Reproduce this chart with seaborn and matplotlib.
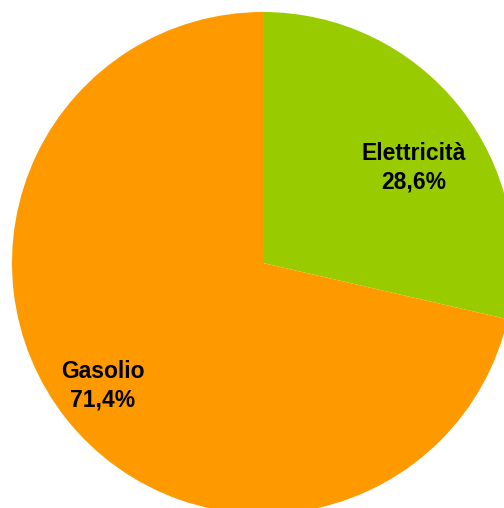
import matplotlib
matplotlib.use("Agg")
import matplotlib.pyplot as plt
import seaborn as sns
import numpy as np

sns.set_style("white")
plt.rcParams['font.family'] = ['Liberation Sans', 'DejaVu Sans']

categories = ["Elettricità", "Gasolio"]
values = [28.6, 71.4]
pct_labels = ["28,6%", "71,4%"]
colors = ["#99CC00", "#FF9900"]

fig = plt.figure(figsize=(5.04, 5.08), dpi=100)
ax = fig.add_axes([12 / 504, -6 / 508, 502 / 504, 502 / 508])

wedges, _ = ax.pie(values, colors=colors, startangle=90, counterclock=False,
                   radius=1.0, wedgeprops=dict(linewidth=0))
ax.set_xlim(-1, 1)
ax.set_ylim(-1, 1)
ax.set_aspect("equal")
ax.axis("off")

# label placement: (angle in degrees, radial fraction)
label_pos = [(32.3, 0.712), (217.4, 0.803)]
for cat, pct, (ang, r) in zip(categories, pct_labels, label_pos):
    a = np.deg2rad(ang)
    ax.text(r * np.cos(a), r * np.sin(a), f"{cat}\n{pct}", ha="center", va="center",
            fontsize=16.5, fontweight="bold", color="black", linespacing=1.3)

fig.savefig("out.png", dpi=100)
